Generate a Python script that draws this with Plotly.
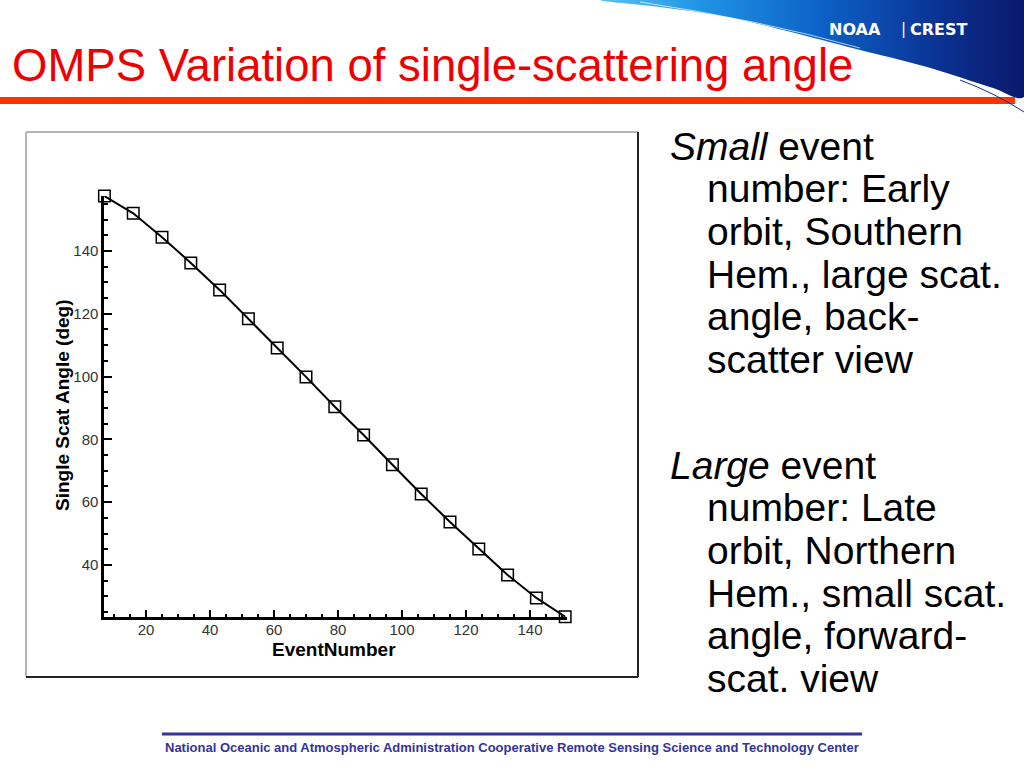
import plotly.graph_objects as go

# ---------------- data ----------------
event_number = [7, 16, 25, 34, 43, 52, 61, 70, 79, 88, 97, 106, 115, 124, 133, 142, 151]
scat_angle = [157.5, 152.0, 144.4, 136.2, 127.6, 118.4, 109.1, 99.9, 90.4, 81.4, 71.9, 62.6, 53.7, 45.1, 36.8, 29.5, 23.5]
x_tick_vals = [20, 40, 60, 80, 100, 120, 140]
y_tick_vals = [40, 60, 80, 100, 120, 140]

title_text = "OMPS Variation of single-scattering angle"
x_title = "EventNumber"
y_title = "Single Scat Angle (deg)"
block1 = ["<i>Small</i> event", "number: Early", "orbit, Southern", "Hem., large scat.", "angle, back-", "scatter view"]
block2 = ["<i>Large</i> event", "number: Late", "orbit, Northern", "Hem., small scat.", "angle, forward-", "scat. view"]
footer_text = "National Oceanic and Atmospheric Administration Cooperative Remote Sensing Science and Technology Center"

W, H = 1024, 768
# pixel placement of the plot area
X_RANGE = [6.9, 151.5]
Y_RANGE = [23.3, 157.6]
x_px = [104.1, 566.8]
y_px = [617.4, 195.7]

fig = go.Figure()

fig.add_trace(go.Scatter(
    x=event_number, y=scat_angle, mode="lines+markers",
    line=dict(color="black", width=2),
    marker=dict(symbol="square-open", size=11.5, color="black", line=dict(width=1.5, color="black")),
    cliponaxis=False, showlegend=False, hoverinfo="x+y",
))

# swoosh (decorative header) in pixel coordinates on helper axes
sw_x = [600, 660, 727, 810, 860, 927, 993, 1024, 1024, 600]
sw_y = [0, 7, 17, 37, 50, 67, 88, 97, 0, 0]
fig.add_trace(go.Scatter(
    x=sw_x, y=sw_y, xaxis="x2", yaxis="y2", mode="lines", line=dict(width=0, shape="spline"),
    fill="toself",
    fillgradient=dict(type="horizontal", colorscale=[[0, "#5ec0f4"], [0.22, "#2196e6"], [0.5, "#0d62c8"], [0.78, "#0a3292"], [1, "#0a1466"]]),
    showlegend=False, hoverinfo="skip",
))

fig.update_layout(
    width=W, height=H, margin=dict(l=0, r=0, t=0, b=0),
    paper_bgcolor="white", plot_bgcolor="rgba(0,0,0,0)",
    xaxis=dict(
        domain=[x_px[0] / W, x_px[1] / W], range=X_RANGE, anchor="y",
        showgrid=False, zeroline=False, showline=True, linecolor="black", linewidth=2.5,
        ticks="inside", ticklen=8, tickwidth=2, tickcolor="black", ticklabelstandoff=-3,
        tickvals=x_tick_vals, tickfont=dict(family="Liberation Sans, Arial", size=15, color="#333333"),
        minor=dict(ticks="inside", ticklen=4, tickwidth=1.5, tickcolor="black", dtick=5, tick0=0, showgrid=False),
    ),
    yaxis=dict(
        domain=[1 - y_px[0] / H, 1 - y_px[1] / H], range=Y_RANGE, anchor="x",
        showgrid=False, zeroline=False, showline=True, linecolor="black", linewidth=2.5,
        ticks="inside", ticklen=8, tickwidth=2, tickcolor="black",
        tickvals=y_tick_vals, tickfont=dict(family="Liberation Sans, Arial", size=15, color="#333333"),
        minor=dict(ticks="inside", ticklen=4, tickwidth=1.5, tickcolor="black", dtick=5, tick0=0, showgrid=False),
    ),
    xaxis2=dict(domain=[0, 1], range=[0, W], anchor="y2", visible=False, fixedrange=True),
    yaxis2=dict(domain=[0, 1], range=[H, 0], anchor="x2", visible=False, fixedrange=True),
)

shapes = []
# chart frame
shapes.append(dict(type="line", xref="x2", yref="y2", x0=26, y0=132, x1=638, y1=132, line=dict(color="#b4b4b4", width=2)))
shapes.append(dict(type="line", xref="x2", yref="y2", x0=26, y0=132, x1=26, y1=677, line=dict(color="#b4b4b4", width=2)))
shapes.append(dict(type="line", xref="x2", yref="y2", x0=638, y0=132, x1=638, y1=677, line=dict(color="#222222", width=2)))
shapes.append(dict(type="line", xref="x2", yref="y2", x0=26, y0=677, x1=638, y1=677, line=dict(color="#222222", width=2)))
# red bar under title
shapes.append(dict(type="rect", xref="x2", yref="y2", x0=0, y0=97, x1=1015, y1=104, fillcolor="#ff3300", line=dict(width=0)))
# thin lines of the swoosh
shapes.append(dict(type="path", xref="x2", yref="y2", path="M 640 2 Q 760 20 860 48", line=dict(color="rgba(255,255,255,0.7)", width=1)))
shapes.append(dict(type="path", xref="x2", yref="y2", path="M 960 80 Q 995 93 1024 112", line=dict(color="#1a2a80", width=1)))
# footer rule
shapes.append(dict(type="line", xref="x2", yref="y2", x0=162, y0=734, x1=862, y1=734, line=dict(color="#333399", width=3)))
fig.update_layout(shapes=shapes)

ann = []
ann.append(dict(text=title_text, x=10, y=65, xref="x2", yref="y2", xanchor="left", yanchor="middle", showarrow=False,
                font=dict(family="Liberation Sans, Arial", size=45.5, color="#ee0000")))
ann.append(dict(text="<b>NOAA</b>", x=827, y=29, xref="x2", yref="y2", xanchor="left", yanchor="middle", showarrow=False,
                font=dict(family="DejaVu Sans", size=16, color="white")))
ann.append(dict(text="<b>CREST</b>", x=908, y=29, xref="x2", yref="y2", xanchor="left", yanchor="middle", showarrow=False,
                font=dict(family="DejaVu Sans", size=16, color="white")))
ann.append(dict(text="|", x=903, y=29, xref="x2", yref="y2", xanchor="center", yanchor="middle", showarrow=False,
                font=dict(family="DejaVu Sans", size=15, color="white")))
# axis titles
ann.append(dict(text="<b>" + x_title + "</b>", x=334, y=649, xref="x2", yref="y2", xanchor="center", yanchor="middle", showarrow=False,
                font=dict(family="Liberation Sans, Arial", size=19, color="black")))
ann.append(dict(text="<b>" + y_title + "</b>", x=62, y=405, xref="x2", yref="y2", xanchor="center", yanchor="middle", showarrow=False,
                textangle=-90, font=dict(family="Liberation Sans, Arial", size=19, color="black")))
# right-hand notes
line_step = 42.7
for blk, y0 in ((block1, 145), (block2, 464)):
    for i, t in enumerate(blk):
        ann.append(dict(text=t, x=(668 if i == 0 else 705), y=y0 + i * line_step + 1, xref="x2", yref="y2",
                        xanchor="left", yanchor="middle", showarrow=False,
                        font=dict(family="Liberation Sans, Arial", size=39, color="black")))
# footer
ann.append(dict(text="<b>" + footer_text + "</b>", x=512, y=747, xref="x2", yref="y2", xanchor="center", yanchor="middle", showarrow=False,
                font=dict(family="Liberation Sans, Arial", size=13, color="#333399")))
fig.update_layout(annotations=ann)

fig.write_html("out.html", config={"displayModeBar": False},
               post_script="document.body.style.margin='0';document.body.style.padding='0';")
